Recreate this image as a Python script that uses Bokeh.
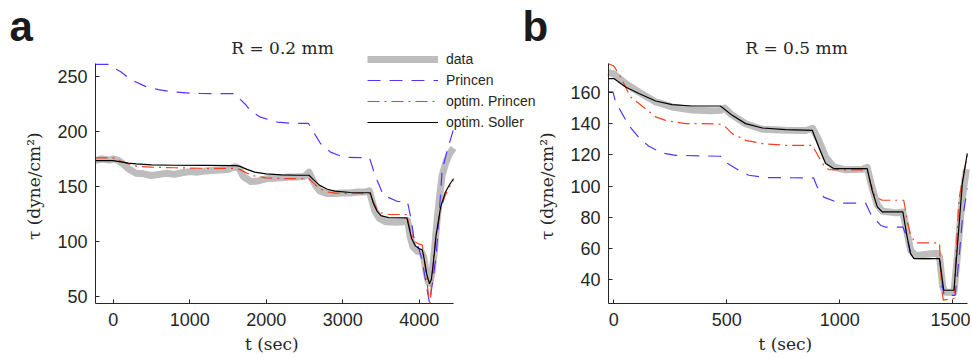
from bokeh.plotting import figure
from bokeh.models import Label, Legend, LegendItem, FixedTicker, Range1d, LinearAxis
from bokeh.embed import file_html
from bokeh.resources import INLINE

# ---------------- Panel a (R = 0.2 mm) ----------------
a_data_t = [-231, -150, -50, 0, 60, 120, 200, 300, 400, 500, 600, 700, 800, 900, 1000, 1100,
            1200, 1300, 1400, 1500, 1600, 1650, 1700, 1800, 1900, 2000, 2100, 2200, 2300, 2400,
            2500, 2560, 2600, 2650, 2700, 2800, 2900, 3000, 3100, 3200, 3300, 3350, 3380, 3420,
            3480, 3560, 3700, 3800, 3850, 3880, 3920, 3980, 4030, 4060, 4090, 4120, 4140, 4170,
            4200, 4230, 4260, 4300, 4350, 4400, 4449]
a_data_y = [173.5, 175, 174, 175, 174, 171, 166, 162, 161.5, 160, 161, 162, 161, 162.5, 163.5, 163,
            164, 164.5, 165, 165.5, 168, 166, 159, 154.5, 155, 157, 157.5, 158, 158.5, 158.5,
            159, 163, 157, 150.5, 146, 143.5, 143.5, 144, 144, 145, 145, 146, 138, 128,
            121, 118, 117.5, 118, 119, 105, 95, 91, 90.5, 86, 72, 63, 62, 72,
            92, 116, 137, 160, 172, 180, 185]

a_princen_t = [-231, -60, 0, 95, 226, 422, 592, 775, 1000, 1141, 1600, 1664, 1730, 1800, 1925, 2148,
               2318, 2553, 2645, 2710, 2841, 3011, 3351, 3403, 3451, 3533, 3712, 3847, 3899, 3929,
               3990, 4039, 4100, 4135, 4190, 4225, 4256, 4300, 4366, 4449]
a_princen_y = [261, 261, 258, 254.5, 247.3, 241, 238, 236, 234.8, 234.5, 234.3, 229, 224.5, 218.5, 213, 208.5,
               207.5, 207.3, 196.4, 189, 181.2, 176.6, 176, 164.5, 155.5, 142, 136.5, 136, 119, 104,
               95, 82.7, 58, 44, 70, 90, 119, 164.5, 182.7, 202]

a_optp_t = [-231, -100, 0, 100, 200, 300, 500, 800, 1200, 1600, 1650, 1750, 1850, 2000, 2200, 2560,
            2620, 2700, 2800, 2900, 3100, 3360, 3400, 3450, 3500, 3600, 3840, 3870, 3900, 3950,
            4000, 4040, 4060, 4100, 4130, 4145, 4160, 4180, 4220, 4280, 4340, 4400, 4449]
a_optp_y = [176, 176, 176, 173, 170.5, 168.5, 167.5, 167, 166.5, 166.5, 165.5, 162, 159.5, 157.8, 157.2, 157,
            153, 148, 145, 144, 143.6, 143.5, 136, 129, 126, 124.5, 124.5, 114, 106, 99.5,
            97.5, 97, 88, 65, 46, 44, 60, 77, 106, 129, 142, 150, 155.5]

a_opts_t = [-231, 0, 100, 200, 300, 500, 800, 1200, 1600, 1650, 1750, 1850, 2000, 2200, 2400, 2560,
            2620, 2700, 2800, 2900, 3100, 3360, 3400, 3450, 3500, 3600, 3840, 3870, 3900, 3950,
            4000, 4040, 4060, 4100, 4135, 4160, 4180, 4220, 4280, 4340, 4400, 4449]
a_opts_y = [173.5, 173.5, 172.3, 171.2, 170.5, 169.7, 169.3, 169.1, 169, 168.5, 165.5, 163, 161.5, 160.5, 160.2, 160.2,
            156, 151, 147.5, 145.8, 144.5, 144.3, 135, 127.5, 123.5, 121.7, 121.5, 112, 103, 96,
            93.3, 92.5, 86, 70, 61.5, 66, 77, 105, 131, 144.5, 152, 157]

a_xticks = [0, 1000, 2000, 3000, 4000]
a_yticks = [50, 100, 150, 200, 250]
a_xlim = (-231, 4449)
a_ylim = (43.6, 261.8)

# ---------------- Panel b (R = 0.5 mm) ----------------
b_data_t = [-24, 0, 25, 52, 111, 185, 258, 347, 430, 472, 490, 520, 583, 657, 760, 850,
            880, 907, 937, 973, 1027, 1100, 1121, 1143, 1166, 1188, 1250, 1279, 1298, 1313,
            1335, 1393, 1430, 1441, 1455, 1465, 1505, 1520, 1540, 1560]
b_data_y = [173, 172, 169, 165.8, 160.4, 154, 150.8, 148.8, 148.3, 148.6, 150, 146, 140, 136.5, 135.8, 135.7,
            137, 129.4, 118.7, 112.3, 110.5, 110.8, 112, 99, 88, 84, 83, 83.5, 70, 59,
            55.5, 56.5, 57, 55, 36, 32, 32, 55, 90, 111]

b_princen_t = [-24, -4, 8, 37, 66, 111, 155, 214, 273, 472, 494, 553, 597, 671, 884, 900,
               929, 996, 1114, 1136, 1180, 1200, 1279, 1298, 1313, 1328, 1441, 1455, 1462, 1510,
               1525, 1542, 1564]
b_princen_y = [160.4, 160.4, 154, 146.5, 139, 131.2, 125.6, 121.3, 119.8, 119.2, 115.5, 110.2, 107, 105.5, 105.3, 99.5,
               93, 89.2, 89.2, 82.4, 75, 73.8, 73.8, 67, 57, 53.5, 53.5, 35, 30, 30,
               50, 78, 98.5]

b_optp_t = [-24, 0, 30, 74, 111, 185, 229, 317, 450, 472, 494, 524, 583, 657, 760, 878,
            907, 929, 951, 1121, 1136, 1158, 1188, 1283, 1298, 1313, 1335, 1441, 1450, 1458,
            1505, 1512, 1527, 1545, 1564]
b_optp_y = [178.5, 177, 170, 157.2, 153, 144.4, 142.2, 140.1, 140, 139.7, 138, 133.7, 129.4, 127.3, 126.2, 126.2,
            118.7, 113.4, 110.6, 110.4, 101.6, 93, 91, 91, 78, 68.5, 63.6, 63.6, 35, 27,
            28, 50, 91, 106, 119.8]

b_opts_t = [-24, 0, 52, 111, 185, 258, 347, 472, 524, 583, 657, 760, 878, 907, 937, 973,
            1121, 1143, 1166, 1188, 1279, 1298, 1313, 1328, 1441, 1460, 1505, 1520, 1542, 1564]
b_opts_y = [169, 169, 163.6, 159.4, 154.6, 152.3, 151.4, 151.4, 145.4, 140.1, 137.3, 136.3, 135.8, 125.1, 114.5, 111.3,
            111.3, 97.4, 86.7, 83.5, 83.5, 67.4, 56.8, 53.6, 53.6, 33.3, 33.3, 61, 101.6, 121]

b_xticks = [0, 500, 1000, 1500]
b_yticks = [40, 60, 80, 100, 120, 140, 160]
b_xlim = (-23.5, 1565)
b_ylim = (24.8, 178.8)

legend_labels = ["data", "Princen", "optim. Princen", "optim. Soller"]

GRAY = "#bdbdbd"
BLUE = "#5a32ff"
RED = "#f5401e"
BLACK = "#000000"
INK = "#262626"
W, H = 970, 356

# Layout (canvas pixels): axes box corners and pixels-per-unit for each panel
A_LEFT, A_BOTTOM, A_PX_X, A_PX_Y = 95, 303, 0.0765, 1.1
B_LEFT, B_BOTTOM, B_PX_X, B_PX_Y = 608, 303, 0.226, 1.56


def full_range(lim, start_px, px_per_unit, size, flip=False):
    lo = lim[0] - start_px / px_per_unit
    return Range1d(lo, lo + size / px_per_unit)


p = figure(width=W, height=H,
           x_range=full_range(a_xlim, A_LEFT, A_PX_X, W),
           y_range=full_range(a_ylim, H - A_BOTTOM, A_PX_Y, H),
           output_backend="svg", toolbar_location=None, title=None,
           min_border_left=0, min_border_right=0, min_border_top=0, min_border_bottom=0)
p.extra_x_ranges = {"b": full_range(b_xlim, B_LEFT, B_PX_X, W)}
p.extra_y_ranges = {"b": full_range(b_ylim, H - B_BOTTOM, B_PX_Y, H)}
p.outline_line_color = None
p.grid.visible = False
p.background_fill_color = "white"
p.border_fill_color = "white"

xa_b = LinearAxis(x_range_name="b", y_range_name="b")
ya_b = LinearAxis(x_range_name="b", y_range_name="b")
p.add_layout(xa_b, "below")
p.add_layout(ya_b, "left")

axes = [(p.xaxis[0], p.yaxis[0], a_xlim, a_ylim, a_xticks, a_yticks),
        (xa_b, ya_b, b_xlim, b_ylim, b_xticks, b_yticks)]
for xa, ya, xlim, ylim, xt, yt in axes:
    for ax in (xa, ya):
        ax.major_tick_in = 4
        ax.major_tick_out = 0
        ax.minor_tick_line_color = None
        ax.axis_line_color = INK
        ax.major_tick_line_color = INK
        ax.major_label_text_font = "Liberation Sans"
        ax.major_label_text_font_size = "18px"
        ax.major_label_text_color = INK
        ax.axis_label_text_font = "DejaVu Serif"
        ax.axis_label_text_font_size = "17px"
        ax.axis_label_text_font_style = "normal"
        ax.axis_label_text_color = INK
    xa.ticker = FixedTicker(ticks=xt)
    ya.ticker = FixedTicker(ticks=yt)
    xa.fixed_location = ylim[0]
    ya.fixed_location = xlim[0]
    xa.bounds = xlim
    ya.bounds = ylim
    xa.major_label_standoff = 9
    xa.axis_label_standoff = 5
    ya.major_label_standoff = 8
    ya.axis_label_standoff = 10
    xa.axis_label = "t  (sec)"
    ya.axis_label = "τ  (dyne/cm²)"


def draw(series, **rng):
    rs = []
    (dt, dy), (pt, py), (ot, oy), (st, sy) = series
    rs.append(p.line(dt, dy, line_color=GRAY, line_width=7, line_join="round", line_cap="butt", **rng))
    rs.append(p.line(pt, py, line_color=BLUE, line_width=1.2, line_dash="13 9", **rng))
    rs.append(p.line(ot, oy, line_color=RED, line_width=1.2, line_dash="12 5 2 5", **rng))
    rs.append(p.line(st, sy, line_color=BLACK, line_width=1.2, **rng))
    return rs


ra = draw([(a_data_t, a_data_y), (a_princen_t, a_princen_y), (a_optp_t, a_optp_y), (a_opts_t, a_opts_y)])
draw([(b_data_t, b_data_y), (b_princen_t, b_princen_y), (b_optp_t, b_optp_y), (b_opts_t, b_opts_y)],
     x_range_name="b", y_range_name="b")

legend = Legend(items=[LegendItem(label=l, renderers=[r]) for l, r in zip(legend_labels, ra)],
                location=(367, H - 130), glyph_width=71, glyph_height=16, label_height=16,
                label_standoff=8, spacing=5, padding=0, margin=0,
                border_line_alpha=0, background_fill_alpha=0,
                label_text_font="Liberation Sans", label_text_font_size="14px",
                label_text_color=INK)
p.add_layout(legend)

for title, tx in (("R = 0.2 mm", 282), ("R = 0.5 mm", 796)):
    p.add_layout(Label(x=tx, y=H - 47, x_units="screen", y_units="screen", text=title,
                       text_font="DejaVu Serif", text_font_size="17px", text_color=INK,
                       text_align="center", text_baseline="middle"))

for letter, lx in (("a", 9), ("b", 522)):
    p.add_layout(Label(x=lx, y=H - 26, x_units="screen", y_units="screen", text=letter,
                       text_font="Liberation Sans", text_font_size="42px", text_font_style="bold",
                       text_color="#1a1a1a", text_align="left", text_baseline="alphabetic"))

open("out.html", "w").write(file_html(p, INLINE))
